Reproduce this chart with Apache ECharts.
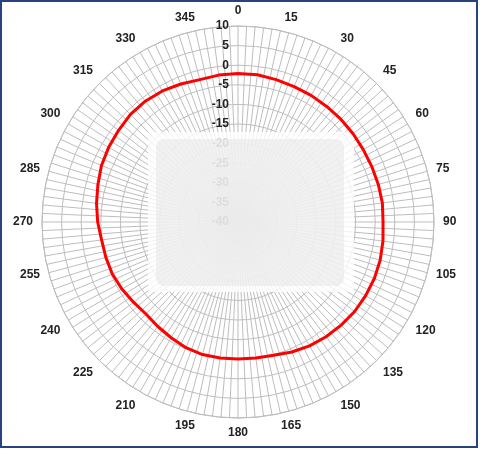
<!DOCTYPE html>
<html>
<head>
<meta charset="utf-8">
<script src="https://cdn.jsdelivr.net/npm/echarts@6/dist/echarts.min.js"></script>
<style>
html,body{margin:0;padding:0;background:#fff;}
#c{width:480px;height:450px;}
</style>
</head>
<body>
<div id="c"></div>
<script>
// Angles (degrees, clockwise from top) and measured level (dB)
const angles = [0,7.5,15,22.5,30,37.5,45,52.5,60,67.5,75,82.5,90,97.5,105,112.5,120,127.5,135,142.5,150,157.5,165,172.5,180,187.5,195,202.5,210,217.5,225,232.5,240,247.5,255,262.5,270,277.5,285,292.5,300,307.5,315,322.5,330,337.5,345,352.5,360];
const levels = [-2.1,-2.1,-2.4,-2.6,-2.7,-2.85,-2.9,-3.0,-3.1,-3.05,-2.95,-2.85,-3.0,-2.7,-2.45,-2.35,-2.4,-2.5,-2.8,-3.1,-3.5,-4.1,-4.8,-5.0,-5.05,-5.0,-5.0,-5.3,-5.9,-6.4,-6.8,-6.4,-5.8,-5.3,-5.1,-4.9,-4.2,-3.6,-3.0,-2.3,-1.9,-1.6,-1.2,-1.15,-1.4,-1.9,-2.4,-2.2,-2.1];
const radiusMin = -40, radiusMax = 10, radiusStep = 5;
const angleLabelStep = 15, angleGridStep = 2.5;

const chart = echarts.init(document.getElementById('c'));
const gridColor = '#bdbdbd';
const font = { fontFamily: 'Liberation Sans', fontWeight: 'bold', fontSize: 12, color: '#222' };

chart.setOption({
  animation: false,
  polar: { center: [238, 222], radius: 196 },
  angleAxis: {
    type: 'value', min: 0, max: 360, interval: angleGridStep,
    startAngle: 90, clockwise: true, z: 0,
    axisLine: { show: true, lineStyle: { color: gridColor, width: 1 } },
    axisTick: { show: false },
    splitLine: { show: true, lineStyle: { color: gridColor, width: 1 } },
    axisLabel: Object.assign({
      margin: 9,
      formatter: function (v) {
        const r = Math.round(v * 10) / 10;
        return (r % angleLabelStep === 0 && r < 360) ? String(r) : '';
      }
    }, font)
  },
  radiusAxis: {
    type: 'value', min: radiusMin, max: radiusMax, interval: radiusStep, z: 0,
    axisLine: { show: false },
    axisTick: { show: false },
    splitLine: { show: true, lineStyle: { color: gridColor, width: 1 } },
    axisLabel: Object.assign({ margin: 9 }, font)
  },
  series: [{
    type: 'line',
    coordinateSystem: 'polar',
    smooth: false,
    showSymbol: false,
    lineStyle: { color: '#ff0000', width: 3, join: 'round' },
    data: angles.map((a, i) => [levels[i], a]),
    z: 20
  }],
  graphic: [
    { type: 'rect', z: 5, shape: { x: 148, y: 132, width: 206, height: 160, r: 2 },
      style: { fill: 'rgba(255,255,255,0.8)' } },
    { type: 'rect', z: 6, shape: { x: 156, y: 139, width: 188, height: 147, r: 8 },
      style: { fill: 'rgba(230,230,230,0.55)' } },
    { type: 'rect', z: 30, shape: { x: 1, y: 1, width: 476, height: 446 },
      style: { fill: 'none', stroke: '#27437e', lineWidth: 2 } }
  ]
});
</script>
</body>
</html>
